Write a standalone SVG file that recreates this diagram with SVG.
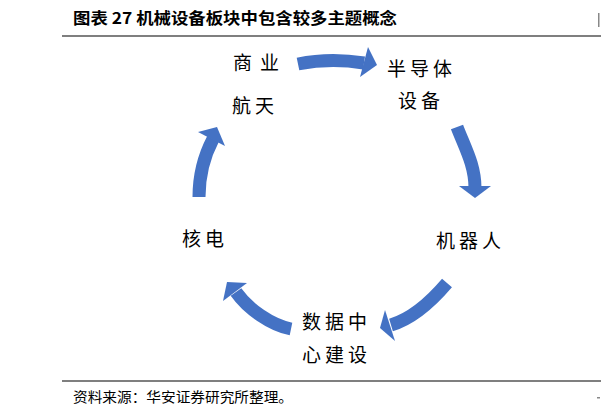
<svg xmlns="http://www.w3.org/2000/svg" width="601" height="416" viewBox="0 0 601 416">
<defs>
<style>
.title{font-family:"Noto Sans CJK SC","Liberation Sans",sans-serif;font-weight:bold;font-size:16px;fill:#000}
.lbl{font-family:"Noto Sans CJK SC",sans-serif;font-size:19px;fill:#000;letter-spacing:4px}
.src{font-family:"Noto Sans CJK SC",sans-serif;font-size:14px;fill:#000}
.shaft{fill:none;stroke:#4472C4;stroke-width:13}
.head{fill:#4472C4}
.rule{stroke:#7f7f7f;stroke-width:2}
</style>
</defs>
<rect width="601" height="416" fill="#fff"/>
<text class="title" x="73" y="24" textLength="324" lengthAdjust="spacingAndGlyphs">图表 27  机械设备板块中包含较多主题概念</text>
<rect x="598" y="13" width="1.5" height="14" fill="#888"/>
<line class="rule" x1="62" y1="36" x2="601" y2="36"/>
<line class="rule" x1="62" y1="381" x2="601" y2="381"/>
<text class="src" x="73" y="402" textLength="220" lengthAdjust="spacingAndGlyphs">资料来源：华安证券研究所整理。</text>
<rect x="597" y="397" width="3" height="1.5" fill="#888"/>
<g id="connectors">
<g id="arrow-top"><path class="shaft" d="M298,64 Q330,57.5 364,63"/><polygon class="head" points="368,47 377,65 360,77"/></g>
<g id="arrow-right"><path class="shaft" d="M457,127 C465,148 475,165 475,188"/><polygon class="head" points="459,186 491,186 475,198"/></g>
<g id="arrow-bottom-right"><path class="shaft" d="M447,283 C430,303 411,319 391,325"/><polygon class="head" points="385,310 380,328 395,341"/></g>
<g id="arrow-bottom-left"><path class="shaft" d="M291,329 C271,325 248,309 236,292"/><polygon class="head" points="223,301 227,282 247,283"/></g>
<g id="arrow-left"><path class="shaft" d="M199,197 C199,175 203,158 213,139"/><polygon class="head" points="198,132 217,127 225,146"/></g>
</g>
<g id="node-aerospace"><text class="lbl" x="233" y="69.5" style="letter-spacing:8px">商业</text><text class="lbl" x="232" y="112.5">航天</text></g>
<g id="node-semiconductor"><text class="lbl" x="387" y="75.5">半导体</text><text class="lbl" x="398" y="107.5">设备</text></g>
<g id="node-robot"><text class="lbl" x="436" y="247.5">机器人</text></g>
<g id="node-datacenter"><text class="lbl" x="302" y="328.5">数据中</text><text class="lbl" x="302" y="362">心建设</text></g>
<g id="node-nuclear"><text class="lbl" x="182" y="246">核电</text></g>
</svg>
